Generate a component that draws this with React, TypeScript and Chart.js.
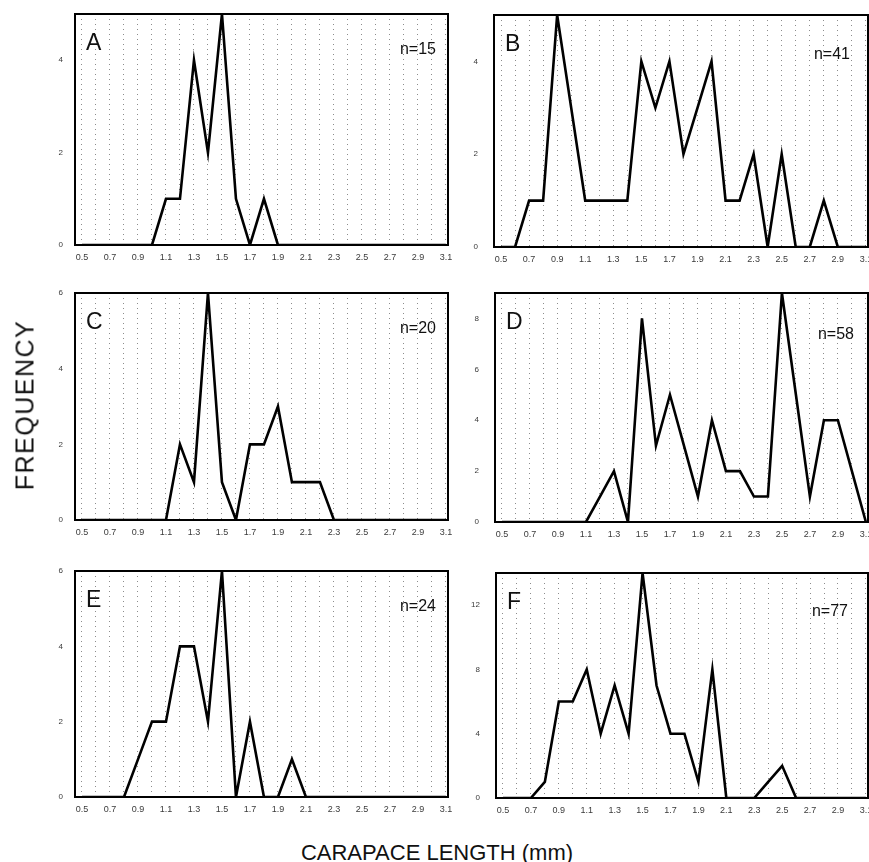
import React, { useEffect, useRef } from 'react';
import { Chart, registerables } from 'chart.js';

Chart.register(...registerables);

// Carapace length classes (mm)
const lengths = [
  '0.5', '0.6', '0.7', '0.8', '0.9', '1.0', '1.1', '1.2', '1.3', '1.4',
  '1.5', '1.6', '1.7', '1.8', '1.9', '2.0', '2.1', '2.2', '2.3', '2.4',
  '2.5', '2.6', '2.7', '2.8', '2.9', '3.0', '3.1',
];

// Frequencies per panel
const freqA = [0, 0, 0, 0, 0, 0, 1, 1, 4, 2, 5, 1, 0, 1, 0, 0, 0, 0, 0, 0, 0, 0, 0, 0, 0, 0, 0];
const freqB = [0, 0, 1, 1, 5, 3, 1, 1, 1, 1, 4, 3, 4, 2, 3, 4, 1, 1, 2, 0, 2, 0, 0, 1, 0, 0, 0];
const freqC = [0, 0, 0, 0, 0, 0, 0, 2, 1, 6, 1, 0, 2, 2, 3, 1, 1, 1, 0, 0, 0, 0, 0, 0, 0, 0, 0];
const freqD = [0, 0, 0, 0, 0, 0, 0, 1, 2, 0, 8, 3, 5, 3, 1, 4, 2, 2, 1, 1, 9, 5, 1, 4, 4, 2, 0];
const freqE = [0, 0, 0, 0, 1, 2, 2, 4, 4, 2, 6, 0, 2, 0, 0, 1, 0, 0, 0, 0, 0, 0, 0, 0, 0, 0, 0];
const freqF = [0, 0, 0, 1, 6, 6, 8, 4, 7, 4, 14, 7, 4, 4, 1, 8, 0, 0, 0, 1, 2, 0, 0, 0, 0, 0, 0];

// Y tick labels per panel
const yTicksA = [0, 2, 4];
const yTicksB = [0, 2, 4];
const yTicksC = [0, 2, 4, 6];
const yTicksD = [0, 2, 4, 6, 8];
const yTicksE = [0, 2, 4, 6];
const yTicksF = [0, 4, 8, 12];

// Y axis maxima
const yMaxA = 5;
const yMaxB = 5;
const yMaxC = 6;
const yMaxD = 9;
const yMaxE = 6;
const yMaxF = 14;

const panelLetters = ['A', 'B', 'C', 'D', 'E', 'F'];
const sampleSizes = ['n=15', 'n=41', 'n=20', 'n=58', 'n=24', 'n=77'];

const yTitle = 'FREQUENCY';
const xTitle = 'CARAPACE LENGTH (mm)';

const FONT = "'Liberation Sans', Arial, Helvetica, sans-serif";

const YW = 40;
const XH = 26;
const PT = 8;
const PR = 8;

const boxPlugin = {
  id: 'panelBox',
  afterDraw(chart: any) {
    const { ctx, chartArea } = chart;
    const o = chart.options.plugins.panelBox || {};
    ctx.save();
    ctx.strokeStyle = '#000';
    ctx.lineWidth = 2;
    ctx.setLineDash([]);
    ctx.strokeRect(chartArea.left, chartArea.top, chartArea.right - chartArea.left, chartArea.bottom - chartArea.top);
    ctx.fillStyle = '#111';
    ctx.font = `23px ${FONT}`;
    ctx.textAlign = 'left';
    ctx.textBaseline = 'alphabetic';
    ctx.fillText(o.letter || '', chartArea.left + 11, chartArea.top + 36);
    ctx.font = `16px ${FONT}`;
    ctx.textAlign = 'right';
    ctx.fillText(o.n || '', chartArea.right - (o.nOffset || 12), chartArea.top + (o.nTop || 40));
    ctx.restore();
  },
};

type PanelProps = {
  data: number[];
  yMax: number;
  yTicks: number[];
  letter: string;
  n: string;
  left: number;
  top: number;
  right: number;
  bottom: number;
  yPad: number;
  nOffset: number;
  nTop: number;
};

function Panel(p: PanelProps) {
  const ref = useRef<HTMLCanvasElement | null>(null);
  const width = YW + (p.right - p.left) + PR;
  const height = PT + (p.bottom - p.top) + XH;

  useEffect(() => {
    if (!ref.current) return;
    const xs = lengths.map((l) => parseFloat(l));
    const chart = new Chart(ref.current, {
      type: 'line',
      data: {
        datasets: [
          {
            data: xs.map((x, i) => ({ x, y: p.data[i] })),
            borderColor: '#000',
            borderWidth: 2.6,
            pointRadius: 0,
            tension: 0,
            fill: false,
            borderJoinStyle: 'miter',
          } as any,
        ],
      },
      options: {
        animation: false,
        responsive: false,
        maintainAspectRatio: false,
        events: [],
        layout: { padding: { top: PT, right: PR, left: 0, bottom: 0 } },
        plugins: {
          legend: { display: false },
          tooltip: { enabled: false },
          panelBox: { letter: p.letter, n: p.n, nOffset: p.nOffset, nTop: p.nTop },
        } as any,
        scales: {
          x: {
            type: 'linear',
            min: 0.45,
            max: 3.115,
            afterBuildTicks: (s: any) => {
              s.ticks = xs.map((v) => ({ value: v }));
            },
            afterFit: (s: any) => {
              s.height = XH;
              s.paddingLeft = 0;
              s.paddingRight = 0;
            },
            ticks: {
              autoSkip: false,
              maxRotation: 0,
              minRotation: 0,
              padding: 7,
              color: '#3a3a3a',
              font: { family: FONT, size: 9 },
              callback: (_v: any, i: number) => (i % 2 === 0 ? lengths[i] : ''),
            },
            grid: { color: '#8c8c8c', lineWidth: 1, drawTicks: false },
            border: { display: false, dash: [1, 4] },
          },
          y: {
            type: 'linear',
            min: 0,
            max: p.yMax,
            afterBuildTicks: (s: any) => {
              s.ticks = p.yTicks.map((v) => ({ value: v }));
            },
            afterFit: (s: any) => {
              s.width = YW;
              s.paddingTop = 0;
              s.paddingBottom = 0;
            },
            ticks: {
              padding: p.yPad,
              color: '#3a3a3a',
              font: { family: FONT, size: 8 },
            },
            grid: { display: false, drawTicks: false },
            border: { display: false },
          },
        },
      } as any,
      plugins: [boxPlugin],
    });
    return () => chart.destroy();
  }, []);

  return (
    <canvas
      ref={ref}
      width={width}
      height={height}
      style={{ position: 'absolute', left: p.left - YW, top: p.top - PT, width, height }}
    />
  );
}

const panels = [
  { data: freqA, yMax: yMaxA, yTicks: yTicksA, left: 75, top: 14, right: 448, bottom: 245, yPad: 12, nOffset: 12, nTop: 40 },
  { data: freqB, yMax: yMaxB, yTicks: yTicksB, left: 494, top: 15, right: 868, bottom: 247, yPad: 16, nOffset: 18, nTop: 44 },
  { data: freqC, yMax: yMaxC, yTicks: yTicksC, left: 75, top: 293, right: 448, bottom: 520, yPad: 12, nOffset: 12, nTop: 40 },
  { data: freqD, yMax: yMaxD, yTicks: yTicksD, left: 495, top: 293, right: 868, bottom: 522, yPad: 16, nOffset: 14, nTop: 46 },
  { data: freqE, yMax: yMaxE, yTicks: yTicksE, left: 75, top: 571, right: 448, bottom: 797, yPad: 12, nOffset: 12, nTop: 40 },
  { data: freqF, yMax: yMaxF, yTicks: yTicksF, left: 496, top: 573, right: 868, bottom: 798, yPad: 16, nOffset: 20, nTop: 43 },
];

export default function App() {
  return (
    <div
      style={{
        position: 'absolute',
        left: 0,
        top: 0,
        width: 869,
        height: 862,
        overflow: 'hidden',
        background: '#fff',
        fontFamily: FONT,
      }}
    >
      {panels.map((pp, i) => (
        <Panel key={i} {...pp} letter={panelLetters[i]} n={sampleSizes[i]} />
      ))}
      <div
        style={{
          position: 'absolute',
          left: 25,
          top: 405,
          transform: 'translate(-50%, -50%) rotate(-90deg)',
          fontSize: 25,
          letterSpacing: 1.5,
          color: '#111',
          whiteSpace: 'nowrap',
          lineHeight: 1,
        }}
      >
        {yTitle}
      </div>
      <div
        style={{
          position: 'absolute',
          left: 437,
          top: 853,
          transform: 'translate(-50%, -50%)',
          fontSize: 22,
          color: '#111',
          whiteSpace: 'nowrap',
          lineHeight: 1,
        }}
      >
        {xTitle}
      </div>
    </div>
  );
}
